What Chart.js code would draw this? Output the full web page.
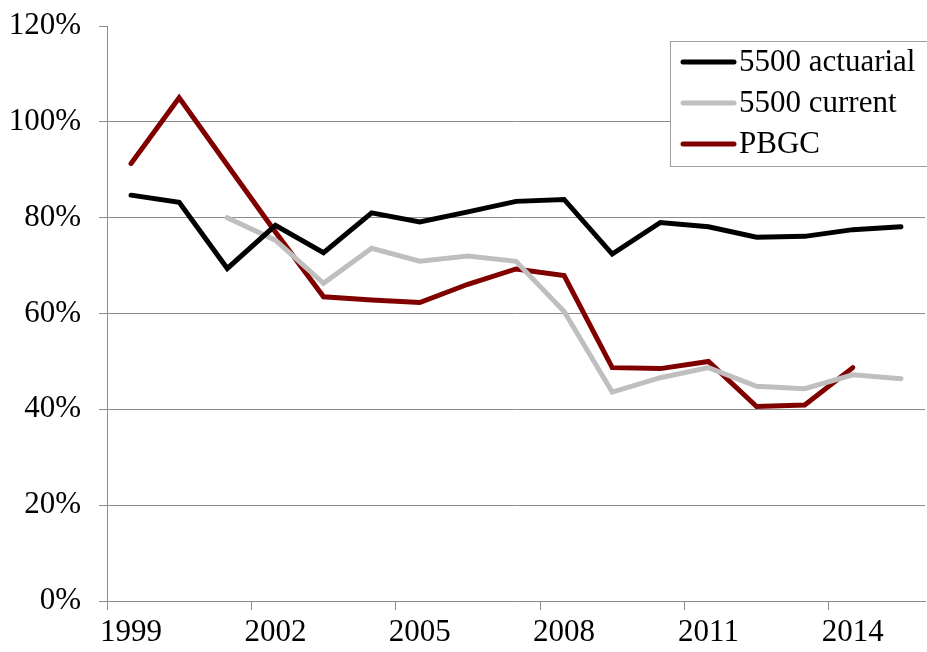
<!DOCTYPE html>
<html>
<head>
<meta charset="utf-8">
<script src="https://cdn.jsdelivr.net/npm/chart.js@4/dist/chart.umd.min.js"></script>
<style>
  html, body { margin: 0; padding: 0; background: #fff; }
  #wrap { width: 927px; height: 652px; }
</style>
</head>
<body>
<div id="wrap"><canvas id="chart" width="927" height="652"></canvas></div>
<script>
const years = ['1999', '2000', '2001', '2002', '2003', '2004', '2005', '2006', '2007',
    '2008', '2009', '2010', '2011', '2012', '2013', '2014', '2015'];

const actuarial = [84.7, 83.2, 69.4, 78.4, 72.7, 81.0, 79.1, 81.2, 83.4,
    83.8, 72.4, 79.0, 78.1, 75.9, 76.1, 77.5, 78.1];
const current = [null, null, 80.0, 75.3, 66.3, 73.6, 70.9, 72.0, 70.9,
    60.4, 43.6, 46.6, 48.7, 44.8, 44.3, 47.2, 46.4];
const pbgc = [91.3, 105.0, 91.0, 77.0, 63.5, 62.8, 62.3, 66.1, 69.3,
    67.9, 48.7, 48.5, 50.0, 40.6, 40.9, 48.7, null];

const seriesNames = ['5500 actuarial', '5500 current', 'PBGC'];
const seriesColors = ['#000000', '#BFBFBF', '#800000'];

const fontFamily = '"Liberation Serif", "Times New Roman", serif';
const gridGrey = '#8c8c8c';

// legend box drawn inside the plot, top right
const boxLegend = {
    id: 'boxLegend',
    afterDraw(chart) {
        const ctx = chart.ctx;
        const x = 670.5, y = 41.5, w = 260, h = 125;
        ctx.save();
        ctx.fillStyle = '#fff';
        ctx.fillRect(x, y, w, h);
        ctx.strokeStyle = '#a0a0a0';
        ctx.lineWidth = 1;
        ctx.strokeRect(x, y, w, h);
        ctx.font = '31px ' + fontFamily;
        ctx.textBaseline = 'middle';
        chart.data.datasets.forEach((ds, i) => {
            const ly = 62 + i * 41;
            ctx.strokeStyle = ds.borderColor;
            ctx.lineWidth = 5;
            ctx.lineCap = 'round';
            ctx.beginPath();
            ctx.moveTo(683, ly);
            ctx.lineTo(734, ly);
            ctx.stroke();
            ctx.fillStyle = '#000';
            ctx.fillText(ds.label, 739, ly + 1);
        });
        ctx.restore();
    }
};

new Chart(document.getElementById('chart'), {
    type: 'line',
    data: {
        labels: years,
        datasets: [actuarial, current, pbgc].map((vals, i) => ({
            label: seriesNames[i],
            data: vals,
            borderColor: seriesColors[i],
            backgroundColor: seriesColors[i],
            borderWidth: 5,
            pointRadius: 0,
            tension: 0,
            borderCapStyle: 'round',
            borderJoinStyle: 'miter',
            spanGaps: false,
        })),
    },
    options: {
        responsive: false,
        animation: false,
        layout: { padding: { top: 26, right: 2, left: 0, bottom: 0 } },
        plugins: {
            legend: { display: false },
            tooltip: { enabled: false },
        },
        scales: {
            x: {
                offset: true,
                grid: {
                    offset: true,
                    drawOnChartArea: false,
                    tickLength: 9,
                    tickColor: (c) => (c.index % 3 === 0 ? gridGrey : 'rgba(0,0,0,0)'),
                },
                border: { color: gridGrey, width: 1 },
                ticks: {
                    autoSkip: false,
                    maxRotation: 0,
                    padding: 4,
                    color: '#000',
                    font: { family: fontFamily, size: 31 },
                    callback: function (v, i) { return i % 3 === 0 ? this.getLabelForValue(v) : ''; },
                },
                afterFit: (s) => { s.height = 51; s.paddingLeft = 0; s.paddingRight = 0; },
            },
            y: {
                min: 0,
                max: 120,
                grid: {
                    color: (c) => (c.tick && c.tick.value === 120 ? 'rgba(0,0,0,0)' : gridGrey),
                    tickColor: gridGrey,
                    tickLength: 8,
                },
                border: { color: gridGrey, width: 1 },
                ticks: {
                    stepSize: 20,
                    padding: 18,
                    color: '#000',
                    font: { family: fontFamily, size: 31 },
                    callback: (v) => v + '%',
                },
                afterFit: (s) => { s.width = 107; s.paddingTop = 0; s.paddingBottom = 0; },
            },
        },
    },
    plugins: [boxLegend],
});
</script>
</body>
</html>
